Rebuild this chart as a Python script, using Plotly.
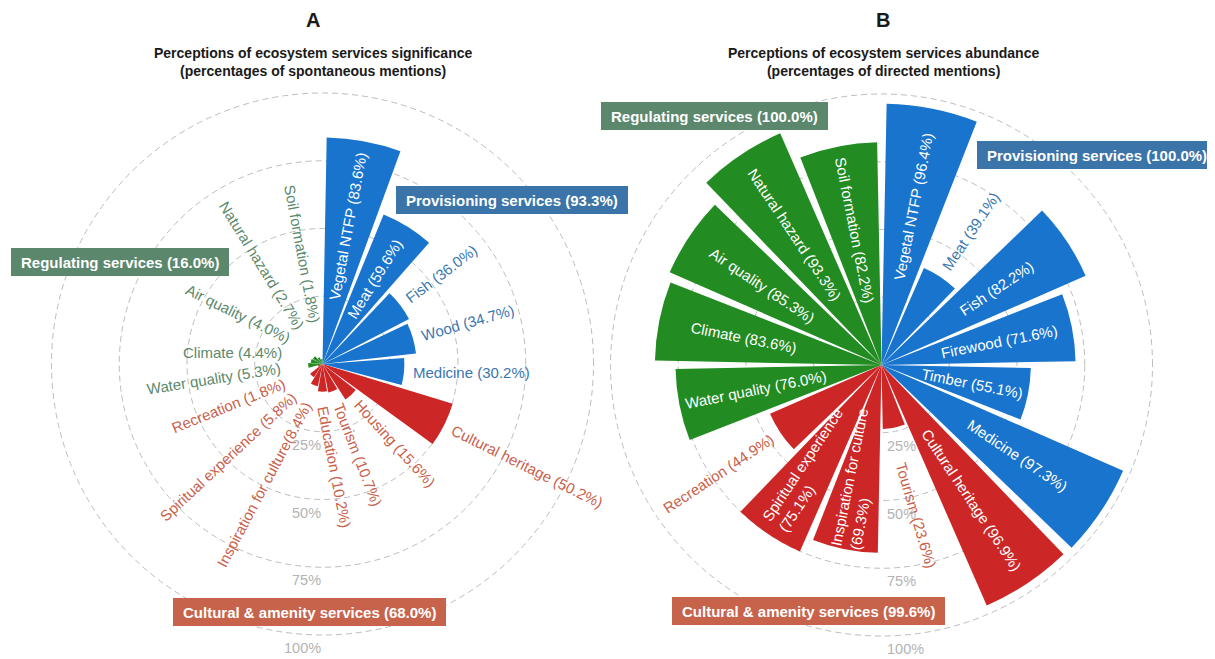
import math
import plotly.graph_objects as go

# ---------------- data ----------------
a_names = ["Vegetal NTFP", "Meat", "Fish", "Wood", "Medicine",
           "Cultural heritage", "Housing", "Tourism", "Education",
           "Inspiration for culture", "Spiritual experience", "Recreation",
           "Water quality", "Climate", "Air quality", "Natural hazard", "Soil formation"]
a_values = [83.6, 59.6, 36.0, 34.7, 30.2,
            50.2, 15.6, 10.7, 10.2, 8.4, 5.8, 1.8,
            5.3, 4.4, 4.0, 2.7, 1.8]
a_groups = ["P"] * 5 + ["C"] * 7 + ["R"] * 5

b_names = ["Vegetal NTFP", "Meat", "Fish", "Firewood", "Timber", "Medicine",
           "Cultural heritage", "Tourism", "Inspiration for culture",
           "Spiritual experience", "Recreation",
           "Water quality", "Climate", "Air quality", "Natural hazard", "Soil formation"]
b_values = [96.4, 39.1, 82.2, 71.6, 55.1, 97.3,
            96.9, 23.6, 69.3, 75.1, 44.9,
            76.0, 83.6, 85.3, 93.3, 82.2]
b_groups = ["P"] * 6 + ["C"] * 5 + ["R"] * 5

group_keys = ["P", "R", "C"]
group_names = ["Provisioning services", "Regulating services", "Cultural & amenity services"]
a_group_pct = [93.3, 16.0, 68.0]
b_group_pct = [100.0, 100.0, 99.6]

radial_ticks = [25, 50, 75, 100]

titles = ["A", "B"]
subtitles = ["Perceptions of ecosystem services significance<br>(percentages of spontaneous mentions)",
             "Perceptions of ecosystem services abundance<br>(percentages of directed mentions)"]

# ---------------- style / layout ----------------
OFF = 8                      # default page margin of the html body
W, H = 1215 - OFF, 659 - OFF  # figure size
R_PX = 271                   # pixel radius of the 100 % circle
RMAX = 101                   # radial range end (so the 100 % grid circle is drawn)
CENTER = {"A": (322.5, 364.0), "B": (881.5, 365.0)}   # window pixels
BAR_COL = {"P": "#1874CD", "R": "#228B22", "C": "#CD2626"}
TXT_COL = {"P": "#3a76b0", "R": "#5a896b", "C": "#c9604a"}
BOX_COL = {"P": "#3a74a9", "R": "#5b876c", "C": "#c8634b"}
BOX_POS = {"A": {"P": (512, 200.5), "R": (120, 262), "C": (309.5, 612)},
           "B": {"P": (1097, 155), "R": (714, 116), "C": (808, 611)}}
TICK_SIDE = {"A": ("right", 0), "B": ("left", 3)}
MIN_OUT = {"A": 12, "B": 33}
ANGLE_OVERRIDE = {"A": {"Climate": 0, "Air quality": 26, "Education": 79, "Medicine": 0,
                        "Water quality": -9, "Inspiration for culture": -62,
                        "Spiritual experience": -43, "Recreation": -22},
                  "B": {"Tourism": 73.6}}
TITLE_X = {"A": 313, "B": 883}
FONT = "Liberation Sans, Arial, sans-serif"
LABEL_SIZE = 15
NO_SPACE = {"A": {"Inspiration for culture"}, "B": set()}

AR = {' ': 278, '(': 333, ')': 333, '.': 278, '%': 889, ',': 278, '&': 667}
for ch in "0123456789":
    AR[ch] = 556
AR.update(dict(zip("abcdefghijklmnopqrstuvwxyz",
                   [556, 556, 500, 556, 556, 278, 556, 556, 222, 222, 500, 222, 833, 556, 556, 556,
                    556, 333, 500, 278, 556, 500, 722, 500, 500, 500])))
AR.update(dict(zip("ABCDEFGHIJKLMNOPQRSTUVWXYZ",
                   [667, 667, 722, 722, 667, 611, 778, 722, 278, 500, 667, 556, 833, 722, 778, 667,
                    778, 722, 667, 611, 722, 667, 944, 667, 667, 611])))
ARB = dict(AR)
ARB.update({'&': 722})
ARB.update(dict(zip("abcdefghijklmnopqrstuvwxyz",
                    [556, 611, 556, 611, 556, 333, 611, 611, 278, 278, 556, 278, 889, 611, 611, 611,
                     611, 389, 556, 333, 611, 556, 778, 556, 556, 500])))
ARB.update({'A': 722, 'B': 722, 'R': 722, 'P': 667, 'C': 722})


def text_w(s, size, bold=False):
    tab = ARB if bold else AR
    return sum(tab.get(c, 556) for c in s) / 1000.0 * size


def px2paper(X, Y):
    return (X - OFF) / W, 1 - (Y - OFF) / H


def polar_px(panel, theta, r_pct):
    cx, cy = CENTER[panel]
    t = math.radians(theta)
    rr = r_pct / 100.0 * R_PX
    return cx + rr * math.sin(t), cy - rr * math.cos(t)


fig = go.Figure()
annotations = []

panels = [("A", a_names, a_values, a_groups, a_group_pct),
          ("B", b_names, b_values, b_groups, b_group_pct)]

for k, (panel, names, values, groups, gpct) in enumerate(panels):
    n = len(values)
    step = 360.0 / n
    thetas = [(i + 0.5) * step for i in range(n)]
    sub = "polar" if k == 0 else "polar2"
    fig.add_trace(go.Barpolar(
        r=values, theta=thetas, width=[0.9 * step] * n,
        marker=dict(color=[BAR_COL[g] for g in groups], line=dict(width=0)),
        subplot=sub, hoverinfo="skip", showlegend=False))

    for name, v, g, th in zip(names, values, groups, thetas):
        sep = "" if name in NO_SPACE[panel] else " "
        pct = f"({v:.1f}%)"
        right = th <= 180.0 + 1e-6
        ang = th - 90 if right else th - 270
        ang = ANGLE_OVERRIDE[panel].get(name, ang)
        inside = v >= 52
        if inside:
            if panel == "B" and len(name) > 18:
                txt = name + "<br>" + pct
            else:
                txt = name + sep + pct
            X, Y = polar_px(panel, th, 0.62 * v)
            col = "white"
        else:
            txt = name + sep + pct
            w = text_w(txt, LABEL_SIZE)
            ax, ay = polar_px(panel, th, max(v, MIN_OUT[panel]) + 3.5)
            a = math.radians(ang)
            ux, uy = math.cos(a), math.sin(a)
            if not right:
                ux, uy = -ux, -uy
            X, Y = ax + ux * w / 2.0, ay + uy * w / 2.0
            col = TXT_COL[g]
        x, y = px2paper(X, Y)
        annotations.append(dict(x=x, y=y, xref="paper", yref="paper", text=txt,
                                showarrow=False, textangle=ang, xanchor="center", yanchor="middle",
                                align="left", font=dict(family=FONT, size=LABEL_SIZE, color=col)))

    # radial tick labels (just below each grid circle, beside the vertical radius)
    side, dx = TICK_SIDE[panel]
    for tv in radial_ticks:
        X, Y = polar_px(panel, 180, tv + 4.8)
        x, y = px2paper(X + dx, Y)
        annotations.append(dict(x=x, y=y, xref="paper", yref="paper", text=f"{tv}%",
                                showarrow=False, xanchor=side, yanchor="middle",
                                font=dict(family=FONT, size=14.5, color="#b3b3b3")))

    # group boxes
    for gk, gname, gp in zip(group_keys, group_names, gpct):
        txt = f"{gname} ({gp:.1f}%)"
        bw = text_w(txt, 15, bold=True) + 20
        bx, by = px2paper(*BOX_POS[panel][gk])
        annotations.append(dict(x=bx, y=by, xref="paper", yref="paper",
                                text=f"<b>{txt}</b>", showarrow=False, xanchor="center", yanchor="middle",
                                width=bw, height=28, borderpad=0, borderwidth=0, bgcolor=BOX_COL[gk],
                                font=dict(family=FONT, size=15, color="white")))

    # titles
    tx, ty = px2paper(TITLE_X[panel], 20)
    annotations.append(dict(x=tx, y=ty, xref="paper", yref="paper",
                            text=f"<b>{titles[k]}</b>", showarrow=False, xanchor="center", yanchor="middle",
                            font=dict(family=FONT, size=20, color="#1a1a1a")))
    sx, sy = px2paper(TITLE_X[panel], 62)
    annotations.append(dict(x=sx, y=sy, xref="paper", yref="paper",
                            text=f"<b>{subtitles[k]}</b>", showarrow=False, xanchor="center", yanchor="middle",
                            font=dict(family=FONT, size=14, color="#1a1a1a")))


def polar_cfg(panel):
    cx, cy = CENTER[panel]
    rd = R_PX * RMAX / 100.0
    x0, y1 = px2paper(cx - rd, cy - rd)
    x1, y0 = px2paper(cx + rd, cy + rd)
    return dict(
        domain=dict(x=[x0, x1], y=[y0, y1]),
        bgcolor="white",
        angularaxis=dict(rotation=90, direction="clockwise", showgrid=False, showline=False,
                         showticklabels=False, ticks=""),
        radialaxis=dict(range=[0, RMAX], tickvals=radial_ticks, showticklabels=False, showline=False,
                        ticks="", gridcolor="#bdbdbd", gridwidth=1, griddash="6px,4px",
                        layer="below traces"),
    )


fig.update_layout(
    width=W, height=H, autosize=False,
    margin=dict(l=0, r=0, t=0, b=0),
    paper_bgcolor="white", plot_bgcolor="white",
    polar=polar_cfg("A"), polar2=polar_cfg("B"),
    annotations=annotations,
    font=dict(family=FONT),
)

fig.write_html("out.html")
